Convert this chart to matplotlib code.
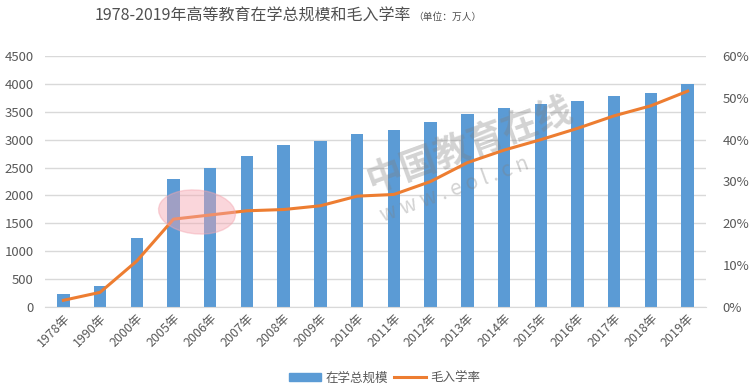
import matplotlib
matplotlib.use('Agg')
import matplotlib.pyplot as plt
from matplotlib.patches import Ellipse
from matplotlib.lines import Line2D
from matplotlib.patches import Patch
from matplotlib.ticker import FuncFormatter

plt.rcParams['font.family'] = ['Noto Sans CJK SC', 'DejaVu Sans']

years = ['1978年', '1990年', '2000年', '2005年', '2006年', '2007年', '2008年',
         '2009年', '2010年', '2011年', '2012年', '2013年', '2014年', '2015年',
         '2016年', '2017年', '2018年', '2019年']
scale = [228, 372, 1230, 2300, 2500, 2700, 2907, 2979, 3105, 3167, 3325,
         3460, 3559, 3647, 3699, 3779, 3833, 4002]
rate = [1.6, 3.5, 11.0, 21.0, 22.0, 23.0, 23.3, 24.2, 26.5, 26.9, 30.0,
        34.5, 37.5, 40.0, 42.7, 45.7, 48.1, 51.6]

blue = '#5B9BD5'
orange = '#ED7D31'
grey = '#595959'

fig = plt.figure(figsize=(7.54, 3.88), dpi=100)
ax = fig.add_axes([45 / 754, 1 - 307 / 388, 661 / 754, 251 / 388])

x = list(range(len(years)))
ax.bar(x, scale, width=0.34, color=blue, zorder=2)
ax.set_xlim(-0.5, len(years) - 0.5)
ax.set_ylim(0, 4500)
ax.set_yticks(range(0, 4501, 500))
ax.grid(axis='y', color='#D9D9D9', linewidth=1, zorder=0)
ax.set_axisbelow(True)
for s in ['top', 'right', 'left']:
    ax.spines[s].set_visible(False)
ax.spines['bottom'].set_color('#D9D9D9')
ax.tick_params(length=0, colors=grey, labelsize=9.5)
ax.set_xticks(x)
ax.set_xticklabels(years, rotation=45, ha='right', rotation_mode='anchor', fontsize=9)
ax.tick_params(axis='y', pad=8)

ax2 = ax.twinx()
ax2.plot(x, rate, color=orange, linewidth=2.2, zorder=3)
ax2.set_ylim(0, 60)
ax2.set_yticks(range(0, 61, 10))
ax2.yaxis.set_major_formatter(FuncFormatter(lambda v, p: '%d%%' % v))
for s in ax2.spines.values():
    s.set_visible(False)
ax2.tick_params(length=0, colors=grey, labelsize=9.5, pad=12)

# watermark
ell = Ellipse((197 / 754, 1 - 212 / 388), 75 / 754, 45 / 388, angle=22,
              transform=fig.transFigure, color='#F4A6B0', alpha=0.45, zorder=5)
fig.add_artist(ell)
fig.text(470 / 754, 1 - 145 / 388, '中国教育在线', rotation=20, fontsize=26,
         fontweight='bold', color='#808080', alpha=0.35, ha='center', va='center')
fig.text(455 / 754, 1 - 190 / 388, 'w w w . e o l . c n', rotation=20, fontsize=15,
         color='#808080', alpha=0.35, ha='center', va='center')

title = fig.text(95 / 754, 1 - 16 / 388, '1978-2019年高等教育在学总规模和毛入学率',
                 fontsize=11.5, color='#505050', ha='left', va='center')
fig.canvas.draw()
bb = title.get_window_extent().transformed(fig.transFigure.inverted())
fig.text(bb.x1 + 2 / 754, 1 - 17 / 388, '（单位：万人）', fontsize=7,
         color='#505050', ha='left', va='center')

handles = [Patch(color=blue, label='在学总规模'),
           Line2D([0], [0], color=orange, linewidth=2.2, label='毛入学率')]
fig.legend(handles=handles, loc='center', bbox_to_anchor=(385 / 754, 1 - 378 / 388),
           ncol=2, frameon=False, fontsize=9, labelcolor=grey,
           handlelength=2.5, handleheight=0.6, columnspacing=0.5, handletextpad=0.4)

fig.savefig('out.png', dpi=100)
